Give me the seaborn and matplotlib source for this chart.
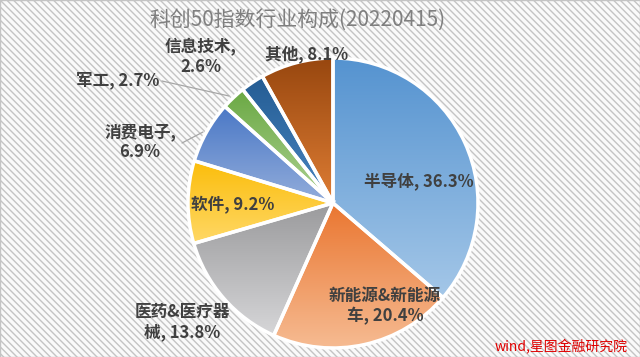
import matplotlib
matplotlib.use("Agg")
import matplotlib.pyplot as plt
from matplotlib.colors import LinearSegmentedColormap
import numpy as np
import seaborn as sns

# 数据: 科创50指数行业构成 (2022-04-15)
industries = ['半导体', '新能源&新能源车', '医药&医疗器械', '软件',
              '消费电子', '军工', '信息技术', '其他']
weights = [36.3, 20.4, 13.8, 9.2, 6.9, 2.7, 2.6, 8.1]
label_texts = ['半导体, 36.3%', '新能源&新能源\n车, 20.4%', '医药&医疗器\n械, 13.8%',
               '软件, 9.2%', '消费电子,\n6.9%', '军工, 2.7%', '信息技术,\n2.6%', '其他, 8.1%']

# 每块的渐变色 (上 -> 下)
top_colors = ['#5593d0', '#ea7630', '#9a9a9c', '#fbbd0a', '#4a78c6', '#6aa843', '#245c93', '#98470f']
bottom_colors = ['#a4c7e8', '#f6bb92', '#d6d6d8', '#ffd866', '#93addb', '#aed293', '#4a86c2', '#de7d34']

W, H = 640, 357


def px(x, y):
    # 像素坐标(左上原点) -> 数据坐标
    return x, H - y


sns.set_theme(style="white")
plt.rcParams['font.family'] = ['Noto Sans CJK SC', 'DejaVu Sans']
plt.rcParams['hatch.linewidth'] = 1.0

fig = plt.figure(figsize=(W / 100, H / 100), dpi=100)

# 背景斜纹
bg = fig.add_axes([0, 0, 1, 1])
bg.set_axis_off()
bg.add_patch(plt.Rectangle((0, 0), 1, 1, transform=bg.transAxes, facecolor='#fafafa',
                           edgecolor='#c4c4c4', hatch='\\\\\\\\\\', lw=1.0))

ax = fig.add_axes([0, 0, 1, 1])
ax.patch.set_alpha(0)
wedges, _ = ax.pie(weights, startangle=90, counterclock=False,
                   center=px(333, 203), radius=145,
                   wedgeprops=dict(edgecolor='white', linewidth=2.5, facecolor='none', zorder=3))

grad = np.linspace(0, 1, 256)[:, None]
for w, c0, c1 in zip(wedges, top_colors, bottom_colors):
    ext = w.get_path().get_extents()
    cmap = LinearSegmentedColormap.from_list('g', [c0, c1])
    im = ax.imshow(grad, cmap=cmap, extent=[ext.x0, ext.x1, ext.y0, ext.y1],
                   origin='upper', aspect='auto', zorder=2)
    im.set_clip_path(w)

ax.set_xlim(0, W)
ax.set_ylim(0, H)
ax.set_aspect('equal')
ax.set_axis_off()

# 数据标签位置 (像素)
label_pos = [(419, 181), (385, 306), (182, 322), (233, 205),
             (140, 142), (118, 80), (201, 57), (307, 54)]
for txt, (x, y) in zip(label_texts, label_pos):
    ax.text(*px(x, y), txt, ha='center', va='center', fontsize=12,
            color='#404040', fontweight='bold', linespacing=1.15, zorder=5)

# 引导线
ax.plot(*zip(px(182, 143), px(203, 132)), color='#a6a6a6', lw=0.9, zorder=4)
ax.plot(*zip(px(162, 81), px(229, 96)), color='#a6a6a6', lw=0.9, zorder=4)

ax.text(*px(298, 20), '科创50指数行业构成(20220415)', ha='center', va='center',
        fontsize=15, color='#7f7f7f', zorder=5)
ax.text(*px(628, 346), 'wind,星图金融研究院', ha='right', va='center',
        fontsize=10, color='#e00000', style='italic', zorder=5)

fig.savefig('out.png', dpi=100)
